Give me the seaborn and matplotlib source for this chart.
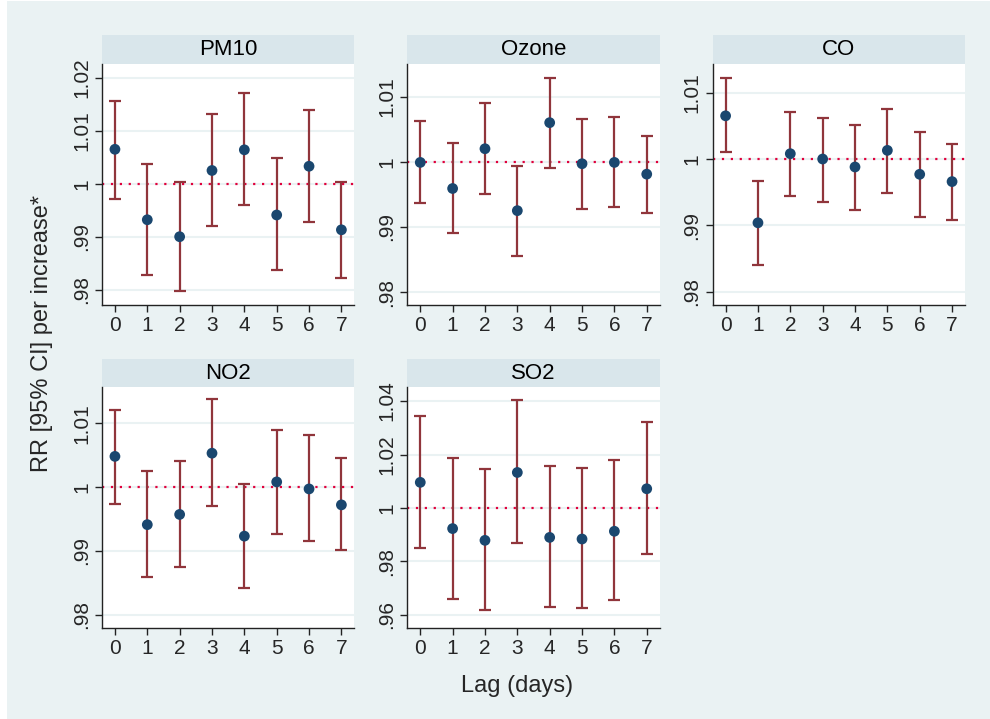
import numpy as np
import pandas as pd
import matplotlib
matplotlib.use("Agg")
import matplotlib.pyplot as plt
from matplotlib.patches import Rectangle
from matplotlib.ticker import FuncFormatter
import seaborn as sns

lags = [0, 1, 2, 3, 4, 5, 6, 7]
pollutants = ["PM10", "Ozone", "CO", "NO2", "SO2"]

rr_pm10 = [1.0065, 0.9932, 0.9900, 1.0025, 1.0064, 0.9941, 1.0033, 0.9913]
lo_pm10 = [0.9972, 0.9827, 0.9797, 0.9920, 0.9959, 0.9838, 0.9928, 0.9822]
hi_pm10 = [1.0157, 1.0037, 1.0004, 1.0131, 1.0171, 1.0048, 1.0139, 1.0004]

rr_ozone = [0.9999, 0.9959, 1.0020, 0.9925, 1.0060, 0.9997, 0.9999, 0.9981]
lo_ozone = [0.9937, 0.9891, 0.9951, 0.9856, 0.9990, 0.9928, 0.9930, 0.9921]
hi_ozone = [1.0062, 1.0029, 1.0090, 0.9994, 1.0128, 1.0066, 1.0068, 1.0040]

rr_co = [1.0065, 0.9904, 1.0008, 1.0000, 0.9988, 1.0013, 0.9977, 0.9966]
lo_co = [1.0010, 0.9841, 0.9945, 0.9936, 0.9924, 0.9949, 0.9913, 0.9908]
hi_co = [1.0122, 0.9967, 1.0071, 1.0062, 1.0051, 1.0076, 1.0040, 1.0023]

rr_no2 = [1.0048, 0.9941, 0.9957, 1.0053, 0.9923, 1.0008, 0.9997, 0.9972]
lo_no2 = [0.9973, 0.9859, 0.9874, 0.9970, 0.9841, 0.9926, 0.9915, 0.9901]
hi_no2 = [1.0121, 1.0025, 1.0040, 1.0138, 1.0005, 1.0090, 1.0081, 1.0045]

rr_so2 = [1.0096, 0.9923, 0.9879, 1.0133, 0.9890, 0.9884, 0.9913, 1.0072]
lo_so2 = [0.9849, 0.9661, 0.9617, 0.9869, 0.9629, 0.9624, 0.9654, 0.9827]
hi_so2 = [1.0344, 1.0188, 1.0146, 1.0405, 1.0157, 1.0151, 1.0181, 1.0322]

ylims = {"PM10": (0.9772, 1.0226), "Ozone": (0.9781, 1.0150), "CO": (0.9781, 1.0143),
         "NO2": (0.9779, 1.0156), "SO2": (0.9551, 1.0451)}
yticks = {"PM10": [0.98, 0.99, 1.0, 1.01, 1.02], "Ozone": [0.98, 0.99, 1.0, 1.01],
          "CO": [0.98, 0.99, 1.0, 1.01], "NO2": [0.98, 0.99, 1.0, 1.01],
          "SO2": [0.96, 0.98, 1.0, 1.02, 1.04]}

series = {
    "PM10": (rr_pm10, lo_pm10, hi_pm10),
    "Ozone": (rr_ozone, lo_ozone, hi_ozone),
    "CO": (rr_co, lo_co, hi_co),
    "NO2": (rr_no2, lo_no2, hi_no2),
    "SO2": (rr_so2, lo_so2, hi_so2),
}
rows = []
for p in pollutants:
    rr, lo, hi = series[p]
    for i, lag in enumerate(lags):
        rows.append({"pollutant": p, "lag": lag, "rr": rr[i], "lo": lo[i], "hi": hi[i]})
df = pd.DataFrame(rows)

bg = "#EAF2F3"
strip = "#D9E6EB"
bar_col = "#90353B"
dot_col = "#1A476F"
ref_col = "#E0003C"

sns.set_theme(style="white")
plt.rcParams["font.family"] = ["Liberation Sans", "DejaVu Sans"]


def fmt(v, pos):
    s = f"{v:.2f}".rstrip("0").rstrip(".")
    if s.startswith("0."):
        s = s[1:]
    return s


def draw(data, **kws):
    ax = plt.gca()
    ax.axhline(1, color=ref_col, lw=1.6, ls=(0, (1, 3)), zorder=1)
    ax.errorbar(data["lag"], data["rr"],
                yerr=[data["rr"] - data["lo"], data["hi"] - data["rr"]],
                fmt="none", ecolor=bar_col, elinewidth=1.6, capsize=4.5,
                capthick=1.6, zorder=2)
    sns.scatterplot(data=data, x="lag", y="rr", ax=ax, color=dot_col, s=60,
                    edgecolor="none", zorder=3)


g = sns.FacetGrid(df, col="pollutant", col_wrap=3, sharex=False, sharey=False,
                  height=3, aspect=1)
g.map_dataframe(draw)

fig = g.figure
fig.set_size_inches(9.9, 7.19)
fig.set_facecolor("white")
fig.patches.append(Rectangle((7 / 990, 0), 1, 1 - 1 / 719, transform=fig.transFigure,
                             facecolor=bg, edgecolor="none", zorder=-10))
fig.subplots_adjust(left=102 / 990, right=965 / 990, top=1 - 64 / 719,
                    bottom=1 - 628 / 719, wspace=0.21, hspace=0.345)

for ax, p in zip(g.axes.flat, pollutants):
    ax.set_facecolor("white")
    ax.set_title("")
    ax.set_xlabel("")
    ax.set_ylabel("")
    ax.set_xlim(-0.4, 7.4)
    ax.set_ylim(*ylims[p])
    ax.set_xticks(lags)
    ax.set_yticks(yticks[p])
    ax.yaxis.set_major_formatter(FuncFormatter(fmt))
    ax.grid(axis="y", color=bg, lw=1.5, zorder=0)
    ax.set_axisbelow(True)
    for s in ["top", "right"]:
        ax.spines[s].set_visible(False)
    for s in ["left", "bottom"]:
        ax.spines[s].set_color("#222222")
        ax.spines[s].set_linewidth(1.0)
    ax.tick_params(axis="both", direction="out", length=5, width=1.0,
                   color="#222222", labelsize=15, pad=3, left=True, bottom=True)
    for lab in ax.get_yticklabels():
        lab.set_rotation(90)
        lab.set_va("center")
    ax.add_patch(Rectangle((0, 1), 1, 0.12, transform=ax.transAxes,
                           facecolor=strip, edgecolor="none", clip_on=False))
    ax.text(0.5, 1.06, p, transform=ax.transAxes, ha="center", va="center",
            fontsize=16, color="black")

fig.text(42 / 990, 1 - 333 / 719, "RR [95% CI] per increase*", rotation=90,
         ha="center", va="center", fontsize=17)
fig.text(517 / 990, 1 - 686 / 719, "Lag (days)", ha="center", va="center",
         fontsize=17)

fig.savefig("out.png", dpi=100, facecolor=fig.get_facecolor())
